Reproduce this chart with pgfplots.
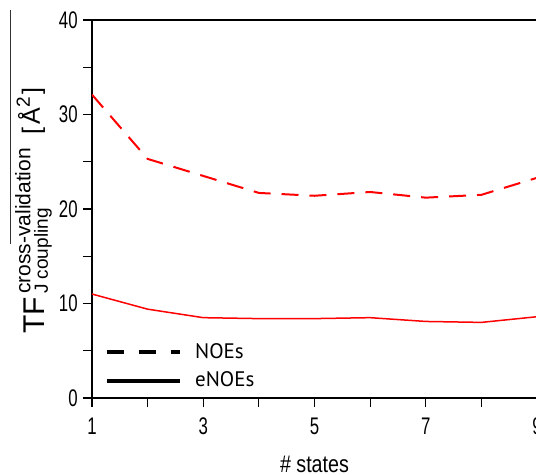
\documentclass[border=0pt]{standalone}
\usepackage{fontspec}
\setmainfont{Liberation Sans}
\newfontfamily\condfont{Liberation Sans}[FakeStretch=0.7]
\newfontfamily\xlabfont{Liberation Sans}[FakeStretch=0.82]
\newfontfamily\legfont{PT Sans}
\usepackage{pgfplots}
\pgfplotsset{compat=1.18}
\begin{document}
\begin{tikzpicture}
\begin{axis}[
  scale only axis, width=222.5pt, height=189pt,
  xmin=1, xmax=9, ymin=0, ymax=40,
  xtick={1,3,5,7,9}, minor xtick={2,4,6,8},
  ytick={0,10,20,30,40}, minor ytick={5,15,25,35},
  /pgf/number format/assume math mode=true,
  tick pos=left, tick align=outside,
  major tick length=4.5pt, minor tick length=4.5pt,
  axis line style={line width=0.6pt},
  every tick/.style={black, line width=0.6pt},
  ticklabel style={font=\condfont\fontsize{12}{14}\selectfont, inner sep=0pt},
  xticklabel shift=5.25pt,
  yticklabel shift=2.5pt,
  xlabel={\# states},
  xlabel style={font=\xlabfont\fontsize{12}{14}\selectfont, inner sep=0pt, at={(0.5,0)}, anchor=center, yshift=-33pt},
  legend style={at={(0,0)}, anchor=south west, xshift=6.5pt, yshift=4pt, draw=none, fill=none,
    inner sep=0pt, outer sep=0pt, row sep=5.5pt, font=\legfont\fontsize{10.5}{12}\selectfont,
    nodes={inner sep=0pt}, /tikz/every odd column/.append style={column sep=7pt}},
  legend cell align=left,
  legend image code/.code={\draw[#1] (0pt,0pt) -- (36.5pt,0pt);},
]
\addlegendimage{black, line width=1.6pt, dash pattern=on 8.5pt off 7.5pt}
\addlegendentry{NOEs}
\addlegendimage{black, line width=1.6pt}
\addlegendentry{eNOEs}
\addplot[red, line width=1pt, dash pattern=on 8.5pt off 5.5pt, forget plot] coordinates {
(1,32.1) (2,25.3) (3,23.5) (4,21.7) (5,21.4) (6,21.8) (7,21.2) (8,21.5) (9,23.3)};
\addplot[red, line width=0.75pt, forget plot] coordinates {
(1,11.0) (2,9.4) (3,8.5) (4,8.4) (5,8.4) (6,8.5) (7,8.1) (8,8.0) (9,8.6)};
\coordinate (SW) at (rel axis cs:0,0);
\coordinate (NE) at (rel axis cs:1,1);
\end{axis}
\node[rotate=90, anchor=base west, inner sep=0pt] at ([xshift=-24pt, yshift=32pt]SW)
  {{\fontsize{15}{17}\selectfont TF}\kern1.5pt\rlap{\raisebox{6.8pt}{\fontsize{10.5}{12}\selectfont cross-validation}}\raisebox{-2pt}{\fontsize{9.5}{11}\selectfont J coupling}};
\node[rotate=90, anchor=base west, inner sep=0pt] at ([xshift=-26pt, yshift=131.5pt]SW)
  {\fontsize{12.5}{14}\selectfont [\kern1.5pt Å\raisebox{5pt}{\fontsize{9.5}{11}\selectfont 2}\kern1.5pt]};
\draw[line width=0.5pt, black!80] ([xshift=-40.5pt, yshift=76.75pt]SW) -- ([xshift=-40.5pt, yshift=194pt]SW);
\pgfresetboundingbox
\path[use as bounding box] ([xshift=-46pt, yshift=-38.25pt]SW) rectangle ([xshift=-0.5pt, yshift=10pt]NE);
\end{tikzpicture}
\end{document}
